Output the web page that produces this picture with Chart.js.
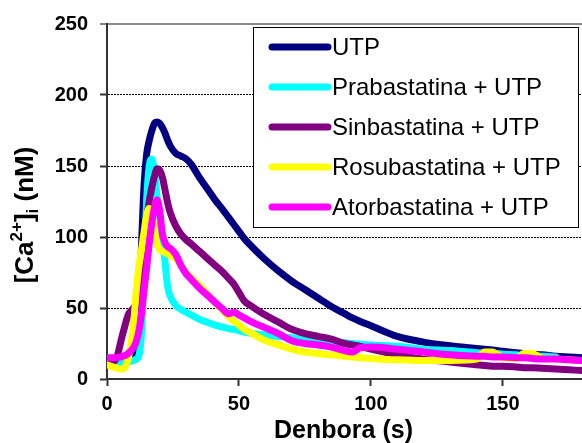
<!DOCTYPE html>
<html>
<head>
<meta charset="utf-8">
<script src="https://cdn.jsdelivr.net/npm/chart.js@4.4.1/dist/chart.umd.min.js"></script>
<style>
  html, body { margin: 0; padding: 0; background: #fff; }
  #wrap { width: 582px; height: 443px; }
</style>
</head>
<body>
<div id="wrap"><canvas id="ca" width="582" height="443"></canvas></div>
<script>
// time samples (s)
const denbora = [0, 3, 6, 8, 10, 11, 12, 13, 14, 15, 16, 17, 18, 19, 20, 21, 22, 23, 24, 26, 28, 30, 32, 35, 38, 41, 44, 46, 48, 50, 52, 55, 60, 65, 70, 75, 80, 85, 90, 93, 96, 100, 110, 120, 130, 140, 143, 146, 150, 155, 158, 161, 165, 170, 175, 180];

// [Ca2+]i in nM for each treatment
const utp = [12, 12, 12, 13, 16, 22, 40, 90, 135, 158, 168, 175, 180, 181, 180, 177, 173, 168, 164, 159, 157, 155, 151, 142, 134, 126, 119, 114, 109, 104, 99, 93, 84, 76, 69, 63, 57, 51, 46, 43, 40.5, 37.5, 30, 26, 23.5, 21.5, 21, 20.5, 19.5, 18.5, 18, 17.5, 17, 16, 15.5, 15];
const prabastatina = [12, 12, 12, 12, 13, 14, 16, 30, 75, 125, 150, 155, 145, 128, 112, 97, 82, 65, 58, 52, 49, 47, 45, 42, 40, 38, 36.5, 35.5, 35, 34, 33, 32, 31, 30, 29, 28, 27, 26, 25.5, 25, 24.5, 24, 23, 21, 20, 18.5, 18, 18, 17.5, 17, 16.5, 16.5, 16, 15.5, null, null];
const sinbastatina = [12, 13, 32, 45, 50, 53, 60, 75, 95, 112, 125, 135, 143, 148, 147, 142, 133, 124, 117, 108, 102, 98, 95, 90, 85, 80, 75, 71, 67, 61, 55, 51, 45, 40, 35, 32, 30, 28, 25, 24, 23, 21, 17, 14, 12, 10, 9.5, 9, 9, 8.5, 8, 8, 7.5, 7, 6.5, 6];
const rosubastatina = [10, 8, 7, 14, 37, 60, 78, 90, 103, 115, 120, 117, 105, 95, 91, 90, 89, 88, 87, 85, 80, 75, 71, 66, 60, 54, 48, 44, 41, 38, 35, 32, 27, 24, 21, 19, 18, 17, 16, 15.5, 15, 14.5, 13.5, 13, 13, 14, 19, 19, 15, 14.5, 18, 18, 14.5, 14, 13.5, 13];
const atorbastatina = [15, 15, 16, 18, 22, 26, 33, 45, 62, 78, 95, 110, 121, 126, 118, 102, 96, 93, 92, 88, 80, 74, 70, 64, 59, 54, 49, 46, 47, 45, 43, 40, 36, 32, 27, 25, 24, 22.5, 20, 19, 22, 22.5, 21, 19, 17, 16, 16, 15.5, 15.5, 15, 15, 14.5, 14, 14, 13.5, 13];

const yTicks = [0, 50, 100, 150, 200, 250];
const xTicks = [0, 50, 100, 150];

const FONT = "'Liberation Sans', Arial, sans-serif";

function points(values) {
  return denbora
    .map((t, i) => ({ x: t, y: values[i] }))
    .filter((p) => p.y !== null);
}

function serie(label, values, color, order) {
  return {
    label: label,
    data: points(values),
    borderColor: color,
    backgroundColor: color,
    borderWidth: 7,
    borderCapStyle: "round",
    borderJoinStyle: "round",
    pointRadius: 0,
    cubicInterpolationMode: "monotone",
    order: order,
  };
}

// boxed legend inside the plot, top right
const legendBox = {
  id: "legendBox",
  afterDatasetsDraw(chart) {
    const { ctx, chartArea } = chart;
    const left = chartArea.left + 146;
    const top = chartArea.top + 3;
    const right = chartArea.right - 3;
    const bottom = top + 201;
    ctx.save();
    ctx.fillStyle = "#fff";
    ctx.fillRect(left, top, right - left, bottom - top);
    ctx.strokeStyle = "#000";
    ctx.lineWidth = 1;
    ctx.strokeRect(left + 0.5, top + 0.5, right - left - 1, bottom - top - 1);
    ctx.font = "24px " + FONT;
    ctx.textBaseline = "middle";
    ctx.fillStyle = "#000";
    chart.data.datasets.forEach((ds, i) => {
      const y = top + 20 + i * 40;
      ctx.beginPath();
      ctx.strokeStyle = ds.borderColor;
      ctx.lineWidth = 7;
      ctx.lineCap = "round";
      ctx.moveTo(left + 19, y);
      ctx.lineTo(left + 75, y);
      ctx.stroke();
      ctx.fillText(ds.label, left + 79, y + 1);
    });
    ctx.restore();
  },
};

// axis titles (the y one needs super/subscripts)
const axisTitles = {
  id: "axisTitles",
  afterDraw(chart) {
    const { ctx, chartArea } = chart;
    ctx.save();
    ctx.fillStyle = "#000";
    ctx.textBaseline = "alphabetic";

    ctx.font = "bold 25px " + FONT;
    ctx.textAlign = "center";
    ctx.fillText("Denbora (s)", (chartArea.left + chartArea.right) / 2 - 1, 438);

    const parts = [
      { t: "[Ca", size: 26, dy: 0 },
      { t: "2+", size: 17, dy: -11 },
      { t: "]", size: 26, dy: 0 },
      { t: "i", size: 17, dy: 5 },
      { t: " (nM)", size: 26, dy: 0 },
    ];
    let total = 0;
    parts.forEach((p) => {
      ctx.font = "bold " + p.size + "px " + FONT;
      p.w = ctx.measureText(p.t).width;
      total += p.w;
    });
    ctx.translate(33, 215);
    ctx.rotate(-Math.PI / 2);
    ctx.textAlign = "left";
    let x = -total / 2;
    parts.forEach((p) => {
      ctx.font = "bold " + p.size + "px " + FONT;
      ctx.fillText(p.t, x, p.dy);
      x += p.w;
    });
    ctx.restore();
  },
};

new Chart(document.getElementById("ca").getContext("2d"), {
  type: "line",
  data: {
    datasets: [
      serie("UTP", utp, "#000080", 5),
      serie("Prabastatina + UTP", prabastatina, "#00FFFF", 4),
      serie("Sinbastatina + UTP", sinbastatina, "#800080", 3),
      serie("Rosubastatina + UTP", rosubastatina, "#FFFF00", 2),
      serie("Atorbastatina + UTP", atorbastatina, "#FF00FF", 1),
    ],
  },
  options: {
    responsive: false,
    animation: false,
    devicePixelRatio: 1,
    layout: { padding: { top: 24, right: 0, left: 0, bottom: 0 } },
    plugins: {
      legend: { display: false },
      tooltip: { enabled: false },
    },
    scales: {
      x: {
        type: "linear",
        min: 0,
        max: 180,
        afterFit: (s) => { s.height = 64; },
        afterBuildTicks: (s) => { s.ticks = xTicks.map((v) => ({ value: v })); },
        ticks: {
          font: { family: FONT, size: 20, weight: "bold" },
          color: "#000",
          padding: 6,
          maxRotation: 0,
        },
        grid: {
          drawOnChartArea: false,
          drawTicks: true,
          tickLength: 7,
          tickColor: "#333",
          tickWidth: 2,
        },
        border: { color: "#333", width: 2 },
      },
      y: {
        min: 0,
        max: 250,
        afterFit: (s) => { s.width = 107; },
        afterBuildTicks: (s) => { s.ticks = yTicks.map((v) => ({ value: v })); },
        ticks: {
          font: { family: FONT, size: 20, weight: "bold" },
          color: "#000",
          padding: 12,
        },
        grid: {
          color: (c) => (c.tick && c.tick.value === 250 ? "#888" : "#000"),
          lineWidth: (c) => (c.tick && c.tick.value === 250 ? 2 : 1),
          tickLength: 7,
          tickColor: (c) => (c.tick && c.tick.value === 250 ? "#888" : "#333"),
          tickWidth: 2,
        },
        border: {
          color: "#333",
          width: 2,
          dash: (c) => (c.tick && c.tick.value === 250 ? [] : [2, 1]),
        },
      },
    },
  },
  plugins: [legendBox, axisTitles],
});
</script>
</body>
</html>
